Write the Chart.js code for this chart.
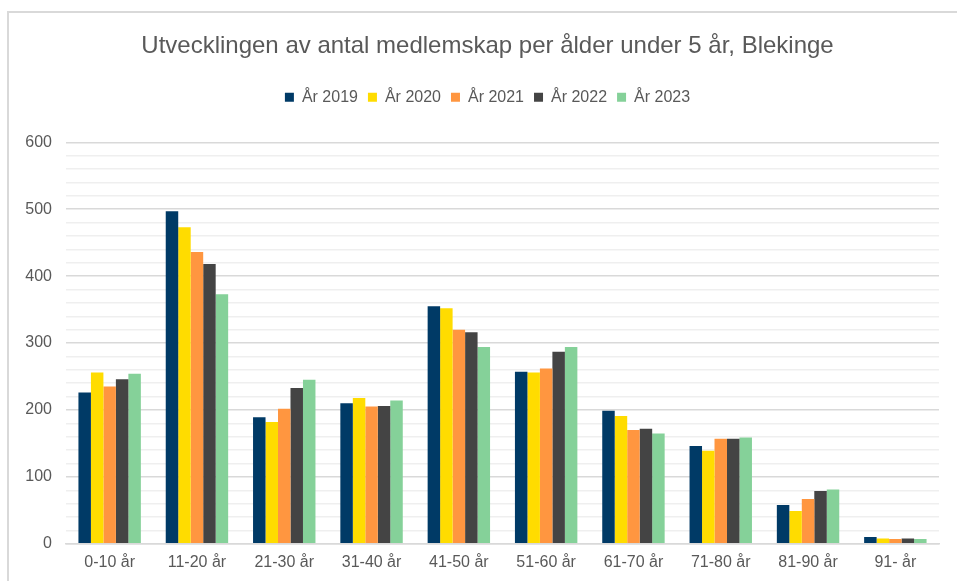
<!DOCTYPE html>
<html>
<head>
<meta charset="utf-8">
<script src="https://cdn.jsdelivr.net/npm/chart.js@4.4.1/dist/chart.umd.min.js"></script>
<style>
  html, body { margin: 0; padding: 0; background: #fff; overflow: hidden; }
  #frame {
    position: absolute; left: 7px; top: 11px; width: 2000px; height: 2000px;
    border: 2px solid #d9d9d9; box-sizing: border-box;
  }
  #wrap { position: absolute; left: 0; top: 0; width: 957px; height: 581px; }
</style>
</head>
<body>
<div id="frame"></div>
<div id="wrap"><canvas id="chart" width="957" height="581"></canvas></div>
<script>
// --- DATA ---
const categories = ['0-10 år', '11-20 år', '21-30 år', '31-40 år', '41-50 år', '51-60 år', '61-70 år', '71-80 år', '81-90 år', '91- år'];
const years = ['År 2019', 'År 2020', 'År 2021', 'År 2022', 'År 2023'];
const values2019 = [226, 497, 189, 210, 355, 257, 199, 146, 58, 10];
const values2020 = [256, 473, 182, 218, 352, 256, 191, 139, 49, 8];
const values2021 = [235, 436, 202, 205, 320, 262, 170, 157, 67, 7];
const values2022 = [246, 418, 233, 206, 316, 287, 172, 157, 79, 8];
const values2023 = [254, 373, 245, 214, 294, 294, 165, 159, 81, 7];
const yTicks = [0, 100, 200, 300, 400, 500, 600];

const colors = ['#003a66', '#ffdc00', '#ff9640', '#444444', '#85d199'];
const seriesValues = [values2019, values2020, values2021, values2022, values2023];
const textColor = '#595959';
const fontFamily = '"Liberation Sans", Arial, sans-serif';

// push the plot area down below the legend
const legendSpacer = {
  id: 'legendSpacer',
  beforeInit(chart) {
    const fit = chart.legend.fit;
    chart.legend.fit = function () {
      fit.bind(chart.legend)();
      this.height += 27;
    };
  },
  // title and legend sit a bit right of the canvas centre
  afterLayout(chart) {
    [chart.titleBlock, chart.legend].forEach(box => {
      if (box) { box.left += 18; box.right += 18; }
    });
  }
};

new Chart(document.getElementById('chart'), {
  type: 'bar',
  data: {
    labels: categories,
    datasets: years.map((name, i) => ({
      label: name,
      data: seriesValues[i],
      backgroundColor: colors[i],
      borderWidth: 0,
      categoryPercentage: 0.715,
      barPercentage: 1.0
    }))
  },
  options: {
    responsive: false,
    animation: false,
    layout: { padding: { left: 0, right: 18, top: 0, bottom: 0 } },
    plugins: {
      title: {
        display: true,
        text: 'Utvecklingen av antal medlemskap per ålder under 5 år, Blekinge',
        color: textColor,
        font: { family: fontFamily, size: 24, weight: 'normal' },
        padding: { top: 32, bottom: 18.5 }
      },
      legend: {
        display: true,
        position: 'top',
        labels: {
          color: textColor,
          font: { family: fontFamily, size: 16 },
          boxWidth: 9,
          boxHeight: 9,
          padding: 10
        }
      },
      tooltip: { enabled: false }
    },
    scales: {
      x: {
        grid: { display: false, drawTicks: false },
        border: { display: true, color: '#d9d9d9', width: 1.5 },
        ticks: {
          color: textColor,
          font: { family: fontFamily, size: 16 },
          padding: 9,
          maxRotation: 0,
          autoSkip: false
        }
      },
      y: {
        min: 0,
        max: 600,
        afterFit(scale) { scale.width = 66; },
        grid: {
          drawTicks: false,
          lineWidth: 1.5,
          color: ctx => (yTicks.includes(ctx.tick.value) ? '#d9d9d9' : '#efefef')
        },
        border: { display: false },
        ticks: {
          stepSize: 20,
          autoSkip: false,
          color: textColor,
          font: { family: fontFamily, size: 16 },
          padding: 14,
          callback: v => (yTicks.includes(v) ? v : '')
        }
      }
    }
  },
  plugins: [legendSpacer]
});
</script>
</body>
</html>
